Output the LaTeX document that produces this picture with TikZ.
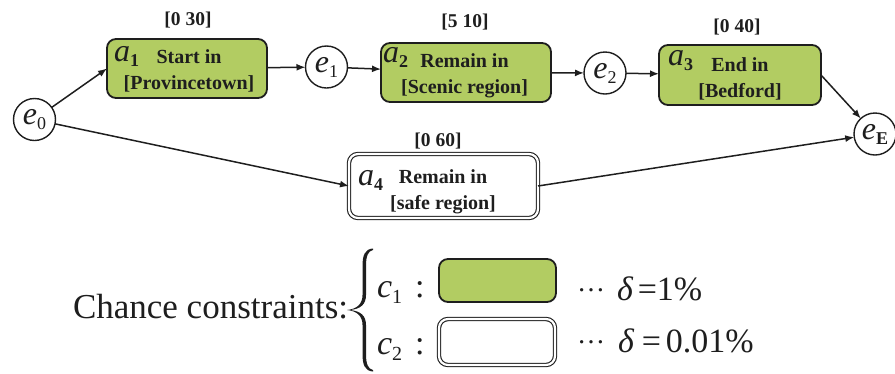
\documentclass[tikz,border=0pt]{standalone}
\usepackage{fontspec}
\setmainfont{Liberation Serif}
\usepackage{graphicx}
\usetikzlibrary{arrows.meta}
\definecolor{leafgreen}{RGB}{178,204,98}
\definecolor{inkline}{RGB}{30,30,30}
% large italic symbol with a lowered index
\newcommand{\bigsym}[1]{{\fontsize{32}{32}\selectfont\itshape #1}}
\newcommand{\lowidx}[1]{\raisebox{-5pt}{\fontsize{18}{18}\selectfont #1}}
\begin{document}
\begin{tikzpicture}[x=1pt,y=-1pt,
  every node/.style={inner sep=0pt, outer sep=0pt, text=inkline},
  event/.style={circle, draw=inkline, line width=1.4pt, minimum size=42pt, fill=white},
  actbox/.style={draw=inkline, line width=1.8pt, rounded corners=9pt, fill=leafgreen},
  safebox/.style={draw=inkline, line width=1.1pt, double=white, double distance=2.2pt, rounded corners=9pt},
  boxtext/.style={align=center, font=\bfseries\fontsize{20}{26}\selectfont},
  window/.style={font=\bfseries\fontsize{19.5}{22}\selectfont},
  actname/.style={anchor=base west},
  legend/.style={anchor=base west, font=\fontsize{34}{34}\selectfont},
  flow/.style={line width=1.5pt, draw=inkline, -{Latex[length=9pt,width=7pt]}},
]
\useasboundingbox (0,0) rectangle (895,373);

% events
\node[event] (e0) at (34.5,119.5) {\bigsym{e}\lowidx{0}};
\node[event] (e1) at (326.5,67) {\bigsym{e}\lowidx{1}};
\node[event] (e2) at (605,73) {\bigsym{e}\lowidx{2}};
\node[event] (eE) at (875,134) {\bigsym{e}\lowidx{\bfseries E}};

% activities
\node[actbox, minimum width=160pt, minimum height=59pt] (a1) at (187,68.5) {};
\node[actbox, minimum width=170pt, minimum height=59pt] (a2) at (466,72.5) {};
\node[actbox, minimum width=162pt, minimum height=60pt] (a3) at (740,75) {};
\node[safebox, minimum width=189pt, minimum height=64pt] (a4) at (443.5,186) {};

\node[boxtext] (a1t) at (189,71) {Start in\\{}[Provincetown]};
\node[boxtext] (a2t) at (464.5,75.5) {Remain in\\{}[Scenic region]};
\node[boxtext] (a3t) at (740,78.5) {End in\\{}[Bedford]};
\node[boxtext] (a4t) at (443,191.5) {Remain in\\{}[safe region]};

\node[actname] (a1n) at (114,61) {\bigsym{a}\lowidx{\bfseries 1}};
\node[actname] (a2n) at (383,62) {\bigsym{a}\lowidx{\bfseries 2}};
\node[actname] (a3n) at (668,65) {\bigsym{a}\lowidx{\bfseries 3}};
\node[actname] (a4n) at (358,185) {\bigsym{a}\lowidx{\bfseries 4}};

% time windows
\node[window] (w1) at (188,20.5) {[0 30]};
\node[window] (w2) at (465,22.5) {[5 10]};
\node[window] (w3) at (737,27.5) {[0 40]};
\node[window] (w4) at (438,141.5) {[0 60]};

% connectors
\draw[flow] (e0) -- (a1.west);
\draw[flow] (e0) -- (a4.west);
\draw[flow] (a1) -- (e1);
\draw[flow] (e1) -- (a2);
\draw[flow] (a2) -- (e2);
\draw[flow] (e2) -- (a3);
\draw[flow] (a3.east) -- (eE);
\draw[flow] (a4.east) -- (eE);

% chance constraint legend
\node[anchor=base west, font=\fontsize{35}{35}\selectfont] (cc) at (73,318) {Chance constraints:};
\fill[inkline]
  (373,248.5) .. controls (365,249) and (362.5,255) .. (362.5,266) -- (362.5,295)
  .. controls (362.5,304) and (357,309) .. (347,310)
  .. controls (357,311) and (362.5,316) .. (362.5,325) -- (362.5,354)
  .. controls (362.5,365) and (365,371) .. (373,371.5)
  -- (373,370) .. controls (368,369) and (366,364) .. (366,354) -- (366,325)
  .. controls (366,316) and (361,311) .. (350,310)
  .. controls (361,309) and (366,304) .. (366,295) -- (366,266)
  .. controls (366,256) and (368,251) .. (373,250) -- cycle;

\node[legend] (c1) at (377,297) {{\itshape c}\raisebox{-6pt}{\fontsize{20}{20}\selectfont 1}\hspace{13pt}:};
\node[legend] (c2) at (377,354) {{\itshape c}\raisebox{-6pt}{\fontsize{20}{20}\selectfont 2}\hspace{13pt}:};
\node[actbox, minimum width=117pt, minimum height=43pt] (k1) at (497.5,280.5) {};
\node[safebox, minimum width=116pt, minimum height=46pt] (k2) at (497,342) {};
\node[legend] (d1) at (577,300) {\raisebox{9pt}{\fontsize{28}{28}\selectfont …}\hspace{12pt}{\itshape δ}\hspace{5pt}=1\%};
\node[legend] (d2) at (577,352) {\raisebox{9pt}{\fontsize{28}{28}\selectfont …}\hspace{13pt}{\itshape δ}\hspace{8pt}=\hspace{5pt}0.01\%};
\end{tikzpicture}
\end{document}
